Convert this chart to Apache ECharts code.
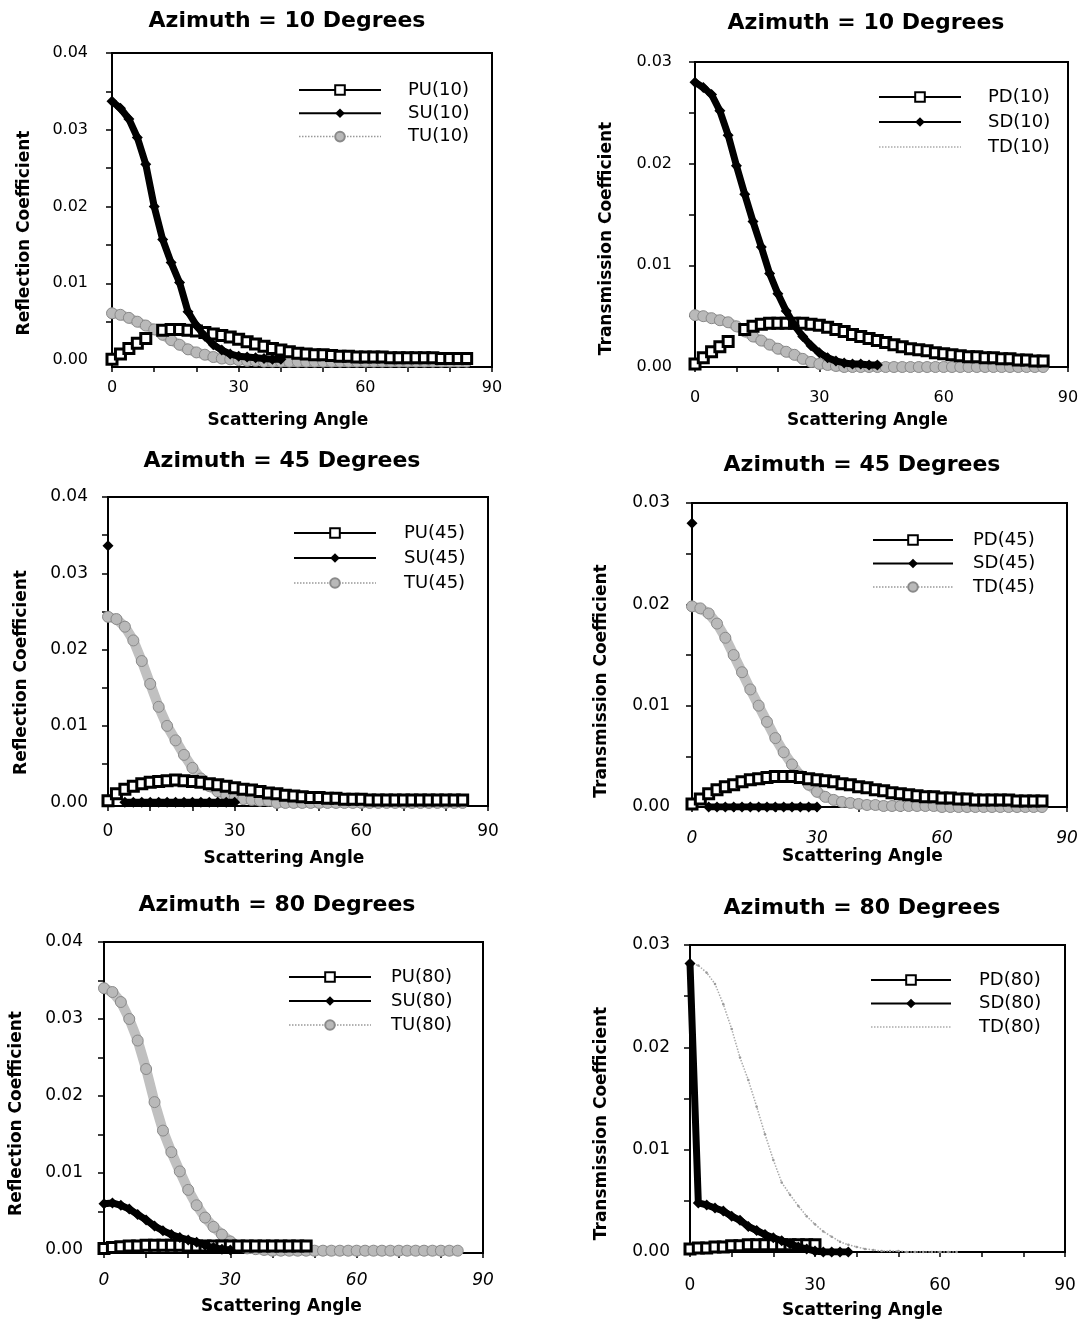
<!DOCTYPE html>
<html><head><meta charset="utf-8">
<script src="https://cdn.jsdelivr.net/npm/echarts@6/dist/echarts.min.js"></script>
<style>html,body{margin:0;padding:0;background:#fff}#c{width:1087px;height:1324px}</style>
</head><body><div id="c"></div>
<script>
// ---------- data ----------
const angles = [0,2,4,6,8,10,12,14,16,18,
  20,22,24,26,28,30,32,34,36,38,
  40,42,44,46,48,50,52,54,56,58,
  60,62,64,66,68,70,72,74,76,78,
  80,82,84];

const PU10 = [0.0001,0.0008,0.0015,0.0022,0.0028,null,0.0039,0.0040,0.0040,0.0039,
  0.0038,0.0036,0.0034,0.0032,0.0030,0.0027,0.0024,0.0021,0.0018,0.0015,
  0.0013,0.0011,0.0009,0.0008,0.0007,0.0007,0.0006,0.0005,0.0005,0.0004,
  0.0004,0.0004,0.0004,0.0003,0.0003,0.0003,0.0003,0.0003,0.0003,0.0002,
  0.0002,0.0002,0.0002];
const SU10 = [0.0337,0.0328,0.0314,0.0290,0.0255,0.0200,0.0157,0.0127,0.0101,0.0063,
  0.0045,0.0031,0.0020,0.0013,0.0008,0.0005,0.0004,0.0003,0.0002,0.0001,
  0.0001,null,null,null,null,null,null,null,null,null,
  null,null,null,null,null,null,null,null,null,null,
  null,null,null];
const TU10 = [0.0061,0.0059,0.0055,0.0050,0.0045,0.0040,0.0033,0.0026,0.0020,0.0014,
  0.0010,0.0007,0.0004,0.0002,0.0001,0,-0.0001,-0.0001,-0.0002,-0.0002,
  -0.0002,-0.0002,-0.0002,-0.0002,-0.0002,-0.0002,-0.0002,-0.0002,-0.0002,-0.0002,
  -0.0002,-0.0002,-0.0002,-0.0002,-0.0002,-0.0002,-0.0002,-0.0002,-0.0002,-0.0002,
  -0.0002,-0.0002,-0.0002];

const PD10 = [0.0003,0.0009,0.0015,0.0020,0.0025,null,0.0037,0.0040,0.0042,0.0043,
  0.0043,0.0043,0.0043,0.0043,0.0042,0.0041,0.0039,0.0037,0.0035,0.0032,
  0.0030,0.0028,0.0026,0.0024,0.0022,0.0020,0.0018,0.0017,0.0016,0.0014,
  0.0013,0.0012,0.0011,0.0010,0.0010,0.0009,0.0009,0.0008,0.0008,0.0007,
  0.0007,0.0006,0.0006];
const SD10 = [0.0280,0.0275,0.0268,0.0252,0.0228,0.0198,0.0170,0.0143,0.0118,0.0092,
  0.0072,0.0055,0.0041,0.0030,0.0021,0.0014,0.0009,0.0006,0.0004,0.0003,
  0.0003,0.0002,0.0002,null,null,null,null,null,null,null,
  null,null,null,null,null,null,null,null,null,null,
  null,null,null];
const TD10 = [0.0051,0.0050,0.0048,0.0046,0.0044,0.0040,0.0035,0.0030,0.0026,0.0022,
  0.0018,0.0015,0.0012,0.0008,0.0005,0.0003,0.0002,0.0001,0,0,
  0,0,0,0,0,0,0,0,0,0,
  0,0,0,0,0,0,0,0,0,0,
  0,0,0];

const PU45 = [0.0002,0.0011,0.0017,0.0021,0.0024,0.0026,0.0027,0.0028,0.0029,0.0028,
  0.0027,0.0026,0.0024,0.0023,0.0021,0.0019,0.0017,0.0016,0.0014,0.0012,
  0.0011,0.0009,0.0008,0.0007,0.0006,0.0006,0.0005,0.0005,0.0004,0.0004,
  0.0004,0.0003,0.0003,0.0003,0.0003,0.0003,0.0003,0.0003,0.0003,0.0003,
  0.0003,0.0003,0.0003];
const SU45 = [0.0336,null,0,0,0,0,0,0,0,0,
  0,0,0,0,0,0,null,null,null,null,
  null,null,null,null,null,null,null,null,null,null,
  null,null,null,null,null,null,null,null,null,null,
  null,null,null];
const TU45 = [0.0243,0.0240,0.0230,0.0212,0.0185,0.0155,0.0125,0.0100,0.0081,0.0062,
  0.0045,0.0031,0.0021,0.0014,0.0009,0.0006,0.0004,0.0003,0.0002,0.0002,
  -0.0001,-0.0001,-0.0001,-0.0001,-0.0001,-0.0001,-0.0001,-0.0001,-0.0001,-0.0001,
  -0.0001,-0.0001,-0.0001,-0.0001,-0.0001,-0.0001,-0.0001,-0.0001,-0.0001,-0.0001,
  -0.0001,-0.0001,-0.0001];

const PD45 = [0.0003,0.0008,0.0013,0.0017,0.0020,0.0022,0.0025,0.0027,0.0028,0.0029,
  0.0030,0.0030,0.0030,0.0029,0.0028,0.0027,0.0026,0.0025,0.0023,0.0022,
  0.0020,0.0019,0.0017,0.0016,0.0014,0.0013,0.0012,0.0011,0.0010,0.0010,
  0.0009,0.0009,0.0008,0.0008,0.0007,0.0007,0.0007,0.0007,0.0007,0.0006,
  0.0006,0.0006,0.0006];
const SD45 = [0.0280,null,0,0,0,0,0,0,0,0,
  0,0,0,0,0,0,null,null,null,null,
  null,null,null,null,null,null,null,null,null,null,
  null,null,null,null,null,null,null,null,null,null,
  null,null,null];
const TD45 = [0.0198,0.0196,0.0191,0.0181,0.0167,0.0150,0.0133,0.0116,0.0100,0.0084,
  0.0068,0.0054,0.0042,0.0031,0.0022,0.0015,0.0010,0.0007,0.0005,0.0004,
  0.0003,0.0002,0.0002,0.0001,0.0001,0.0001,0.0001,0.0001,0.0001,0.0001,
  0,0,0,0,0,0,0,0,0,0,
  0,0,0];

const PU80 = [0.0002,0.0003,0.0004,0.0005,0.0005,0.0006,0.0006,0.0006,0.0006,0.0006,
  0.0005,0.0005,0.0005,0.0005,0.0005,0.0005,0.0005,0.0005,0.0005,0.0005,
  0.0005,0.0005,0.0005,0.0005,0.0005,null,null,null,null,null,
  null,null,null,null,null,null,null,null,null,null,
  null,null,null];
const SU80 = [0.0060,0.0061,0.0058,0.0053,0.0046,0.0039,0.0031,0.0025,0.0020,0.0016,
  0.0013,0.0010,0.0006,0.0003,0.0001,0,null,null,null,null,
  null,null,null,null,null,null,null,null,null,null,
  null,null,null,null,null,null,null,null,null,null,
  null,null,null];
const TU80 = [0.0340,0.0335,0.0322,0.0300,0.0272,0.0235,0.0192,0.0155,0.0127,0.0102,
  0.0078,0.0058,0.0042,0.0030,0.0020,0.0011,0.0005,0.0002,0.0001,0,
  -0.0001,-0.0001,-0.0001,-0.0001,-0.0001,-0.0001,-0.0001,-0.0001,-0.0001,-0.0001,
  -0.0001,-0.0001,-0.0001,-0.0001,-0.0001,-0.0001,-0.0001,-0.0001,-0.0001,-0.0001,
  -0.0001,-0.0001,-0.0001];

const PD80 = [0.0003,0.0004,0.0004,0.0005,0.0005,0.0006,0.0006,0.0007,0.0007,0.0007,
  0.0007,0.0007,0.0007,0.0007,0.0007,0.0007,null,null,null,null,
  null,null,null,null,null,null,null,null,null,null,
  null,null,null,null,null,null,null,null,null,null,
  null,null,null];
const SD80 = [0.0282,0.0048,0.0046,0.0043,0.0040,0.0035,0.0031,0.0025,0.0021,0.0017,
  0.0014,0.0011,0.0008,0.0005,0.0003,0.0001,0,0,0,0,
  null,null,null,null,null,null,null,null,null,null,
  null,null,null,null,null,null,null,null,null,null,
  null,null,null];
const TD80 = [0.0282,0.0280,0.0273,0.0262,0.0242,0.0218,0.0190,0.0168,0.0142,0.0115,
  0.0090,0.0068,0.0056,0.0045,0.0035,0.0027,0.0020,0.0015,0.0010,0.0007,
  0.0005,0.0003,0.0002,0.0001,0.0001,0.0001,0,0,0,0,
  0,0,0,null,null,null,null,null,null,null,
  null,null,null];

const titles = ['Azimuth = 10 Degrees','Azimuth = 10 Degrees','Azimuth = 45 Degrees',
  'Azimuth = 45 Degrees','Azimuth = 80 Degrees','Azimuth = 80 Degrees'];
const seriesNames = [
  ['PU(10)','SU(10)','TU(10)'], ['PD(10)','SD(10)','TD(10)'],
  ['PU(45)','SU(45)','TU(45)'], ['PD(45)','SD(45)','TD(45)'],
  ['PU(80)','SU(80)','TU(80)'], ['PD(80)','SD(80)','TD(80)']];
const seriesValues = [
  [PU10,SU10,TU10],[PD10,SD10,TD10],
  [PU45,SU45,TU45],[PD45,SD45,TD45],
  [PU80,SU80,TU80],[PD80,SD80,TD80]];
const yNameR = 'Reflection Coefficient';
const yNameT = 'Transmission Coefficient';
const xName = 'Scattering Angle';
const yLabelsR = [0,0.01,0.02,0.03,0.04];
const yLabelsT = [0,0.01,0.02,0.03];
const yMarksR = [0,0.005,0.01,0.015,0.02,0.025,0.03,0.035,0.04];
const yMarksT = [0,0.005,0.01,0.015,0.02,0.025,0.03];
const xLabels = [0,30,60,90];
const xMarks = [0,10,20,30,40,50,60,70,80,90];

// ---------- layout ----------
const FONT = 'DejaVu Sans';
const L = [
 {grid:[112,53,380,314], ymin:-0.0009, ymax:0.04, R:true,  title:[287,10],  leg:[298,81,82,5.3,22], yGap:79, yShift:23, xGap:45, xShift:14, yMargin:24, xMargin:13, lbl:16, italic:false, faintT:false},
 {grid:[695,62,373,305], ymin:0,       ymax:0.03, R:false, title:[866,12],  leg:[878,88,82,7,22],   yGap:80, yShift:24, xGap:45, xShift:14, yMargin:23, xMargin:23, lbl:16, italic:false, faintT:false},
 {grid:[108,497,380,309],ymin:-0.0005, ymax:0.04, R:true,  title:[282,450], leg:[293,524,82,7,23],  yGap:78, yShift:21, xGap:44, xShift:14, yMargin:20, xMargin:17, lbl:17, italic:false, faintT:false},
 {grid:[692,503,375,304],ymin:0,       ymax:0.03, R:false, title:[862,454], leg:[872,531,80,5.5,15],yGap:82, yShift:26, xGap:41, xShift:17, yMargin:22, xMargin:23, lbl:17, italic:true,  faintT:false},
 {grid:[104,942,379,311],ymin:-0.0004, ymax:0.04, R:true,  title:[277,894], leg:[288,968,82,6,15],  yGap:79, yShift:16, xGap:45, xShift:12, yMargin:21, xMargin:19, lbl:17, italic:true,  faintT:false},
 {grid:[690,945,375,307],ymin:0,       ymax:0.03, R:false, title:[862,897], leg:[870,971,80,5.5,23],yGap:80, yShift:25, xGap:50, xShift:15, yMargin:20, xMargin:25, lbl:17, italic:false, faintT:true}
];

const toPairs = vals => angles.map((a,i) => [a, vals[i] === null ? '-' : vals[i]]);

const grids = [], xAxes = [], yAxes = [], series = [], legends = [], graphics = [];
L.forEach((p, i) => {
  grids.push({left:p.grid[0], top:p.grid[1], width:p.grid[2], height:p.grid[3],
    show:true, borderColor:'#000', borderWidth:2, containLabel:false});
  xAxes.push({type:'value', gridIndex:i, min:0, max:90, position:'bottom',
    name:xName, nameLocation:'middle', nameGap:p.xGap,
    nameTextStyle:{fontFamily:FONT, fontSize:17, fontWeight:'bold', color:'#000', padding:[0,2*p.xShift,0,0]},
    axisLine:{onZero:false, lineStyle:{color:'#000', width:2}},
    axisTick:{customValues:xMarks, length:5, lineStyle:{color:'#000', width:1.5}},
    axisLabel:{customValues:xLabels, margin:p.xMargin, fontFamily:FONT, fontSize:p.lbl, color:'#000',
      fontStyle:p.italic ? 'italic' : 'normal', formatter:v => String(v)},
    splitLine:{show:false}});
  yAxes.push({type:'value', gridIndex:i, min:p.ymin, max:p.ymax, position:'left',
    name:p.R ? yNameR : yNameT, nameLocation:'middle', nameGap:p.yGap,
    nameTextStyle:{fontFamily:FONT, fontSize:17, fontWeight:'bold', color:'#000', padding:[0,2*p.yShift,0,0]},
    axisLine:{onZero:false, lineStyle:{color:'#000', width:2}},
    axisTick:{customValues:p.R ? yMarksR : yMarksT, length:6, lineStyle:{color:'#000', width:1.5}},
    axisLabel:{customValues:p.R ? yLabelsR : yLabelsT, margin:p.yMargin, fontFamily:FONT, fontSize:p.lbl, color:'#000',
      formatter:v => v.toFixed(2)},
    splitLine:{show:false}});
  const nm = seriesNames[i], vs = seriesValues[i];
  // T series (drawn first, beneath)
  series.push({type:'line', name:nm[2], xAxisIndex:i, yAxisIndex:i, data:toPairs(vs[2]),
    symbol:'circle', symbolSize:p.faintT ? 2.5 : 11,
    itemStyle:p.faintT ? {color:'#9a9a9a'} : {color:'#b9b9b9', borderColor:'#8a8a8a', borderWidth:1},
    lineStyle:p.faintT ? {color:'#aaaaaa', width:1.5, type:'dotted'} : {color:'#c0c0c0', width:10},
    z:2, animation:false, connectNulls:false});
  // P series
  series.push({type:'line', name:nm[0], xAxisIndex:i, yAxisIndex:i, data:toPairs(vs[0]),
    symbol:'rect', symbolSize:10,
    itemStyle:{color:'#fff', borderColor:'#000', borderWidth:3},
    lineStyle:{color:'#000', width:2},
    z:3, animation:false, connectNulls:false});
  // S series
  series.push({type:'line', name:nm[1], xAxisIndex:i, yAxisIndex:i, data:toPairs(vs[1]),
    symbol:'diamond', symbolSize:11,
    itemStyle:{color:'#000'},
    lineStyle:{color:'#000', width:7},
    z:4, animation:false, connectNulls:false});
  const tItem = (i === 1 || i === 5)
    ? {name:nm[2], itemStyle:{opacity:0}, lineStyle:{width:1.5, type:'dotted', color:'#aaaaaa'}}
    : {name:nm[2], lineStyle:{width:1.5, type:'dotted', color:'#999999'}};
  const legData = [{name:nm[0], lineStyle:{width:2}}, {name:nm[1], lineStyle:{width:2}}, tItem];
  legends.push({orient:'vertical', left:p.leg[0], top:p.leg[1], itemWidth:p.leg[2], itemHeight:12,
    itemGap:p.leg[3], selectedMode:false, padding:0, data:legData,
    textStyle:{fontFamily:FONT, fontSize:18, color:'#000', lineHeight:18, padding:[0,0,0,p.leg[4]]}});
  graphics.push({type:'text', x:p.title[0], y:p.title[1],
    style:{text:titles[i], align:'center', verticalAlign:'top', fontFamily:FONT,
      fontSize:22, fontWeight:'bold', fill:'#000'}});
});

const chart = echarts.init(document.getElementById('c'), null, {renderer:'canvas'});
chart.setOption({
  backgroundColor:'#fff',
  animation:false,
  textStyle:{fontFamily:FONT},
  grid:grids, xAxis:xAxes, yAxis:yAxes, series:series, legend:legends,
  graphic:graphics
});
</script></body></html>
